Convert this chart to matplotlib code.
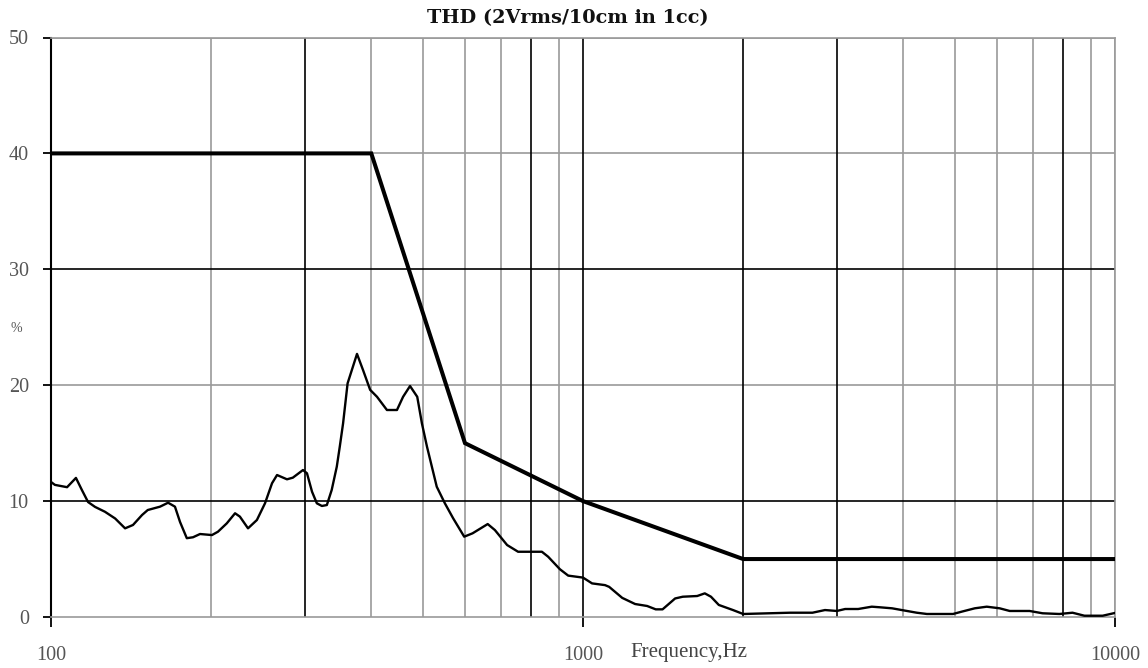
import matplotlib
matplotlib.use('Agg')
import matplotlib.pyplot as plt

# ---- data ----
freq_hz = [100, 101.7, 107.2, 111.4, 114.3, 117.4, 121, 126.3, 132, 137.8, 142.6,
           148.3, 152, 160.3, 166, 171, 174.8, 180, 184.9, 190.6, 200.7, 206, 214,
           221.8, 226.5, 234.6, 243.8, 252.5, 260.3, 266, 277.7, 284.8, 297.6, 302.8,
           309.5, 316, 323, 330, 337, 344.5, 349, 354, 361, 376, 386, 398, 410, 428,
           447, 459, 473, 488, 498, 509, 531, 550, 570, 598, 620, 662, 683, 720, 755,
           837, 860, 905, 938, 1000, 1040, 1100, 1120, 1185, 1253, 1320, 1370, 1411,
           1490, 1540, 1639, 1694, 1740, 1800, 1914, 2000, 2450, 2700, 2850, 3000,
           3110, 3290, 3490, 3610, 3810, 4030, 4240, 4430, 4960, 5150, 5450, 5740,
           6070, 6340, 6910, 7310, 7860, 8320, 8760, 9480, 10000]
thd_pct = [11.65, 11.4, 11.2, 12.0, 10.96, 9.92, 9.5, 9.08, 8.5, 7.65, 7.94,
           8.8, 9.23, 9.52, 9.86, 9.52, 8.2, 6.8, 6.88, 7.16, 7.07, 7.36, 8.08,
           8.95, 8.66, 7.65, 8.37, 9.81, 11.54, 12.25, 11.88, 12.02, 12.68, 12.4,
           10.81, 9.81, 9.58, 9.66, 10.96, 12.97, 14.7, 16.7, 20.16, 22.7, 21.3, 19.6, 19.0, 17.86,
           17.86, 19.0, 19.93, 19.0, 16.7, 14.7, 11.24, 9.81, 8.52, 6.93, 7.22, 8.02, 7.5, 6.21, 5.63,
           5.63, 5.2, 4.12, 3.57, 3.4, 2.9, 2.75, 2.6, 1.65, 1.12, 0.95, 0.66, 0.66,
           1.6, 1.75, 1.81, 2.04, 1.75, 1.04, 0.6, 0.26, 0.37, 0.37, 0.6, 0.52,
           0.69, 0.69, 0.89, 0.84, 0.75, 0.55, 0.37, 0.26, 0.26, 0.46, 0.75, 0.89,
           0.75, 0.52, 0.52, 0.32, 0.26, 0.37, 0.11, 0.11, 0.35]
limit_freq_hz = [100, 400, 600, 1000, 2000, 10000]
limit_pct = [40, 40, 15, 10, 5, 5]
y_ticks = [0, 10, 20, 30, 40, 50]
x_ticks = [100, 1000, 10000]
x_tick_labels = ['100', '1000', '10000']
title = 'THD (2Vrms/10cm in 1cc)'

# grid styling
dark_x = [300, 800, 1000, 2000, 3000, 8000]
light_x = [200, 400, 500, 600, 700, 900, 4000, 5000, 6000, 7000, 9000, 10000]
dark_y = [10, 30]
light_y = [20, 40, 50]

GRAY = '#9a9a9a'
serif = ['Liberation Serif', 'DejaVu Serif']

fig = plt.figure(figsize=(11.48, 6.68), dpi=100)
ax = fig.add_axes([51 / 1148, 1 - 617 / 668, (1115 - 51) / 1148, (617 - 37.5) / 668])
ax.set_xscale('log')
ax.set_xlim(100, 10000)
ax.set_ylim(0, 50)

for x in light_x:
    ax.axvline(x, color=GRAY, lw=1.2, zorder=1)
for x in dark_x:
    ax.axvline(x, color='black', lw=1.2, zorder=1.5)
for y in light_y:
    ax.axhline(y, color=GRAY, lw=1.2, zorder=1)
for y in dark_y:
    ax.axhline(y, color='black', lw=1.2, zorder=1.5)

ax.plot(freq_hz, thd_pct, color='black', lw=1.7, zorder=3)
ax.plot(limit_freq_hz, limit_pct, color='black', lw=2.9, zorder=3,
        solid_joinstyle='miter')

for s in ['top', 'right', 'bottom']:
    ax.spines[s].set_color(GRAY)
    ax.spines[s].set_linewidth(1.2)
ax.spines['left'].set_color('black')
ax.spines['left'].set_linewidth(1.5)

ax.minorticks_off()
ax.set_yticks(y_ticks)
ax.set_yticklabels([str(v) for v in y_ticks], family=serif, fontsize=14.5, color='#555555')
ax.set_xticks(x_ticks)
ax.set_xticklabels(x_tick_labels, family=serif, fontsize=14.5, color='#555555')
ax.tick_params(axis='y', length=6, width=1.3, color='black', pad=10)
ax.tick_params(axis='x', length=7, width=1.3, color='black', pad=14)
ax.xaxis.set_minor_locator(matplotlib.ticker.NullLocator())

fig.text(568 / 1148, 1 - 18 / 668, title, ha='center', va='center',
         family=['DejaVu Serif'], fontsize=13.9, fontweight='bold', color='#111111')
fig.text(630 / 1148, 1 - 653 / 668, 'Frequency,Hz', ha='left', va='center',
         family=serif, fontsize=15, color='#444444')
fig.text(16 / 1148, 1 - 328 / 668, '%', ha='center', va='center',
         family=serif, fontsize=10, color='#555555')

fig.savefig('out.png', dpi=100)
